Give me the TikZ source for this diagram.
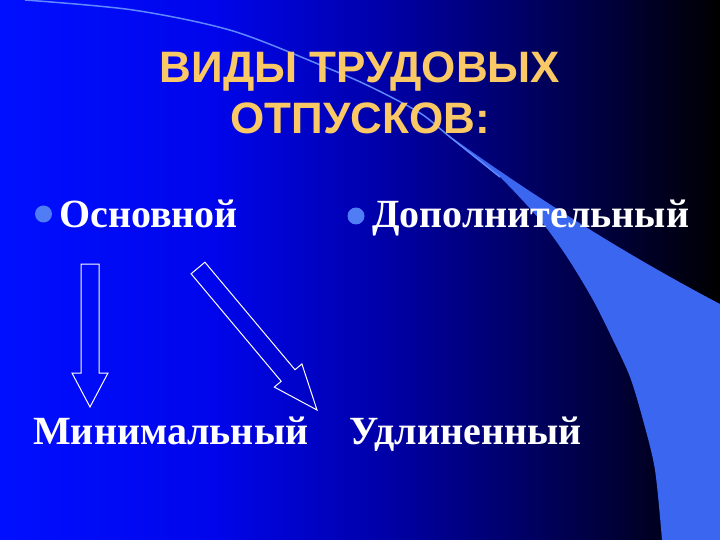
\documentclass[tikz,border=0pt]{standalone}
\usepackage{fontspec}
\setmainfont{Liberation Serif}
\newfontfamily\titlefont{Liberation Sans}
\usetikzlibrary{calc}
\usetikzlibrary{positioning}

\definecolor{titleorange}{RGB}{250,200,100}
\definecolor{bulletblue}{RGB}{80,125,245}
\definecolor{bandblue}{RGB}{58,102,240}
\definecolor{linelight}{RGB}{95,135,255}

\pgfdeclarehorizontalshading{slidebg}{100bp}{rgb(0bp)=(0,0.06,1); rgb(25bp)=(0,0.06,1); rgb(40bp)=(0,0.02,0.92); rgb(52bp)=(0,0,0.65); rgb(62bp)=(0,0,0.38); rgb(70bp)=(0,0,0.15); rgb(75bp)=(0,0,0); rgb(100bp)=(0,0,0)}

% hollow block arrow from #2 to #3, head length #1
\newcommand{\blockarrow}[3][34pt]{%
  \coordinate (#2#3h) at ($(#3)!#1!(#2)$);
  \draw[blockarrow] ($(#2)!9pt!90:(#3)$) -- ($(#2#3h)!9pt!90:(#3)$) -- ($(#2#3h)!18pt!90:(#3)$) -- (#3)
    -- ($(#2#3h)!18pt!-90:(#3)$) -- ($(#2#3h)!9pt!-90:(#3)$) -- ($(#2)!9pt!-90:(#3)$) -- cycle;}

\begin{document}
\begin{tikzpicture}
  [x=1pt,y=-1pt,
  bullet/.style={circle,fill=bulletblue,inner sep=0pt,minimum size=17pt},
  itemtext/.style={anchor=base west,inner sep=0pt,text=white,font=\bfseries\fontsize{40}{48}\selectfont},
  titletext/.style={anchor=base,inner sep=0pt,text=titleorange,font=\titlefont\bfseries\fontsize{44}{52}\selectfont},
  blockarrow/.style={draw=white,line width=1pt,line join=miter}]
  \useasboundingbox (0,0) rectangle (720,540);
  \shade[shading=slidebg] (0,0) rectangle (720,540);

  % swoosh
  \fill[bandblue] plot[smooth] coordinates {(440,129) (470,153) (500,177) (540,220) (567,257) (593,300) (613,340) (630,377) (643,420) (655,470) (662,540)}
    -- (720,540) -- (720,304) .. controls (640,262) and (545,205) .. (440,129) -- cycle;
  \draw[linelight,line width=1.5pt] plot[smooth] coordinates {(25,0) (133,10) (233,31) (330,69) (373,88) (420,113) (450,137) (500,177)};

  \node[titletext] (title1) at (360,83) {ВИДЫ ТРУДОВЫХ};
  \node[titletext] (title2) at (360,134) {ОТПУСКОВ:};

  \node[bullet] (bul1) at (43.5,214) {};
  \node[itemtext] (osn) at (59,228) {Основной};
  \node[bullet] (bul2) at (356,216) {};
  \node[itemtext] (dop) at (372,228) {Дополнительный};

  \node[itemtext] (mini) at (33,444) {Минимальный};
  \node[itemtext] (udl) at (349,444) {Удлиненный};

  \coordinate (a1s) at (90,264);
  \coordinate (a1e) at (90,407);
  \coordinate (a2s) at (198,268);
  \coordinate (a2e) at (317,410);
  \blockarrow{a1s}{a1e}
  \blockarrow[45pt]{a2s}{a2e}

\end{tikzpicture}
\end{document}
